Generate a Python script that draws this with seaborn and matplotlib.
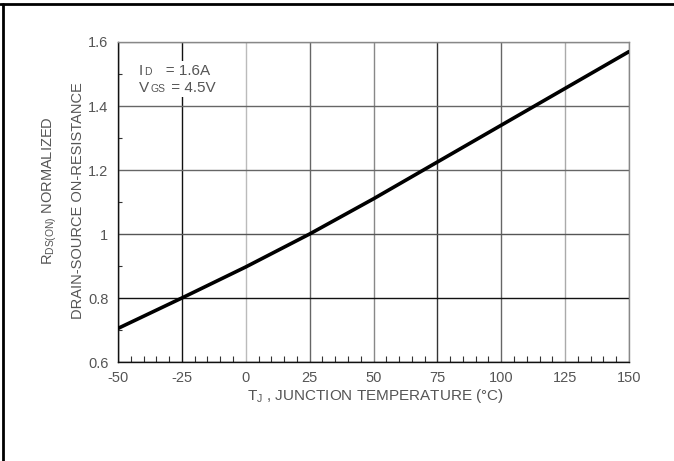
import matplotlib
matplotlib.use("Agg")
import matplotlib.pyplot as plt
import seaborn as sns
import pandas as pd
from matplotlib.lines import Line2D
from matplotlib.ticker import MultipleLocator
from matplotlib.offsetbox import TextArea, HPacker, VPacker, AnchoredOffsetbox

# data
temperature = [-50, -25, 0, 25, 50, 75, 100, 125, 150]
rds_norm = [0.705, 0.80, 0.897, 1.0, 1.11, 1.225, 1.34, 1.455, 1.57]
x_ticks = [-50, -25, 0, 25, 50, 75, 100, 125, 150]
x_tick_labels = ["-50", "-25", "0", "25", "50", "75", "100", "125", "150"]
y_ticks = [0.6, 0.8, 1.0, 1.2, 1.4, 1.6]
y_tick_labels = ["0.6", "0.8", "1", "1.2", "1.4", "1.6"]

sns.set_style("white")
plt.rcParams["font.family"] = ["Liberation Sans", "DejaVu Sans"]
plt.rcParams["mathtext.fontset"] = "custom"
plt.rcParams["mathtext.rm"] = "Liberation Sans"
plt.rcParams["mathtext.it"] = "Liberation Sans"

TXT = "#555555"
FS = 10.5

fig = plt.figure(figsize=(6.74, 4.61), dpi=100)
ax = fig.add_axes([118 / 674, 1 - 362 / 461, (629 - 118) / 674, (362 - 42) / 461])

df = pd.DataFrame({"T": temperature, "R": rds_norm})
sns.lineplot(data=df, x="T", y="R", ax=ax, color="black", linewidth=2.6, zorder=5)

ax.set_xlim(-50, 150)
ax.set_ylim(0.6, 1.6)
ax.set_xticks(x_ticks)
ax.set_xticklabels(x_tick_labels)
ax.set_yticks(y_ticks)
ax.set_yticklabels(y_tick_labels)
ax.xaxis.set_minor_locator(MultipleLocator(5))
ax.yaxis.set_minor_locator(MultipleLocator(0.1))
ax.tick_params(axis="both", which="major", length=0, labelsize=FS,
               labelcolor=TXT)
ax.tick_params(axis="x", which="major", pad=6.5)
ax.tick_params(axis="y", which="major", pad=7)
ax.tick_params(axis="x", which="minor", direction="in", length=4, width=0.8,
               color="#333333", bottom=True)
ax.tick_params(axis="y", which="minor", direction="in", length=3, width=0.8,
               color="#333333", left=True)
ax.set_xlabel("")
ax.set_ylabel("")

ax.grid(True, which="major", linewidth=1.0)
xgrid_colors = ["#000000", "#111111", "#bbbbbb", "#666666", "#888888",
                "#333333", "#666666", "#aaaaaa", "#888888"]
for gl, c in zip(ax.get_xgridlines(), xgrid_colors):
    gl.set_color(c)
ygrid_colors = ["#000000", "#111111", "#555555", "#666666", "#666666", "#888888"]
for gl, c in zip(ax.get_ygridlines(), ygrid_colors):
    gl.set_color(c)

for side, c in {"left": "#111111", "bottom": "#111111",
                "top": "#888888", "right": "#888888"}.items():
    ax.spines[side].set_color(c)
    ax.spines[side].set_linewidth(1.0)
    ax.spines[side].set_visible(True)


# annotation box: small subscript letters on the same baseline
def ta(s, size):
    return TextArea(s, textprops=dict(fontsize=size, color=TXT))


line1 = HPacker(children=[ta("I", 11), ta("D", 7.5), ta("   = 1.6A", 11)],
                align="baseline", pad=0, sep=1)
line2 = HPacker(children=[ta("V", 11), ta("GS", 7.5), ta(" = 4.5V", 11)],
                align="baseline", pad=0, sep=1)
box = VPacker(children=[line1, line2], align="left", pad=0, sep=2)
anch = AnchoredOffsetbox(loc="upper left", child=box, pad=0.2, borderpad=0,
                         frameon=True,
                         bbox_to_anchor=(136 / 674, 1 - 61 / 461),
                         bbox_transform=fig.transFigure)
anch.patch.set_facecolor("white")
anch.patch.set_edgecolor("none")
anch.set_zorder(4)
ax.add_artist(anch)

# axis labels
fig.text(376 / 674, 1 - 396 / 461,
         "T$_{\\mathrm{J}}$ , JUNCTION TEMPERATURE (°C)",
         fontsize=11, color=TXT, ha="center", va="center")
fig.text(50 / 674, 1 - 191 / 461, "R$_{\\mathrm{DS(ON)}}$ NORMALIZED",
         fontsize=10.5, color=TXT, ha="center", va="center", rotation=90)
fig.text(78 / 674, 1 - 201 / 461, "DRAIN-SOURCE ON-RESISTANCE",
         fontsize=10.5, color=TXT, ha="center", va="center", rotation=90)

# outer frame (top and left edges)
fig.add_artist(Line2D([0, 1], [1 - 4 / 461, 1 - 4 / 461], transform=fig.transFigure,
                      color="black", linewidth=2.0))
fig.add_artist(Line2D([3 / 674, 3 / 674], [0, 1 - 4 / 461], transform=fig.transFigure,
                      color="black", linewidth=2.0))

fig.savefig("out.png", dpi=100)
